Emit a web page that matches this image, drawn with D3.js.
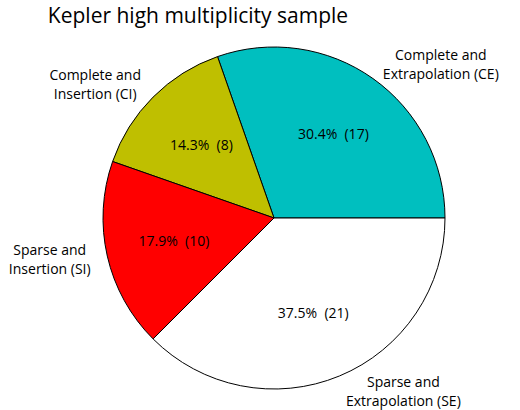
<!DOCTYPE html>
<html><head><meta charset="utf-8">
<script src="https://cdn.jsdelivr.net/npm/d3@7"></script>
<style>body{margin:0;background:#fff}text{font-family:"Open Sans","DejaVu Sans",sans-serif}</style>
</head><body><div id="chart"></div>
<script>
const labels = [["Complete and", "Extrapolation (CE)"], ["Complete and", "Insertion (CI)"], ["Sparse and", "Insertion (SI)"], ["Sparse and", "Extrapolation (SE)"]]
const counts = [17, 8, 10, 21]
const colors = ["#00bfbf", "#bfbf00", "#ff0000", "#ffffff"]

const width = 520, height = 410
const cx = 274, cy = 218, r = 171
const total = d3.sum(counts)

const svg = d3.select("#chart").append("svg").attr("width", width).attr("height", height)

svg.append("text").attr("x", 198).attr("y", 23).attr("text-anchor", "middle")
    .attr("font-size", 21).text("Kepler high multiplicity sample")

// counterclockwise from east, like matplotlib
const pie = d3.pie().sort(null).startAngle(Math.PI / 2).endAngle(Math.PI / 2 - 2 * Math.PI)
const arcs = pie(counts)
const arc = d3.arc().innerRadius(0).outerRadius(r)

const g = svg.append("g").attr("transform", `translate(${cx},${cy})`)

g.selectAll("path").data(arcs).join("path")
    .attr("d", arc)
    .attr("fill", (d, i) => colors[i])
    .attr("stroke", "black").attr("stroke-width", 1)

const pos = (d, k) => {
    const a = (d.startAngle + d.endAngle) / 2
    return [Math.sin(a) * r * k, -Math.cos(a) * r * k]
}

g.selectAll("text.pct").data(arcs).join("text").attr("class", "pct")
    .attr("x", d => pos(d, 0.6)[0]).attr("y", d => pos(d, 0.6)[1])
    .attr("dy", "0.35em").attr("text-anchor", "middle").attr("font-size", 14)
    .attr("xml:space", "preserve")
    .text(d => `${(d.value / total * 100).toFixed(1)}%  (${d.value})`)

arcs.forEach((d, i) => {
    const [x, y] = pos(d, 1.1)
    const t = g.append("text").attr("font-size", 14).attr("text-anchor", "middle")
    labels[i].forEach((s, j) => t.append("tspan").attr("x", 0).attr("y", (j - (labels[i].length - 1) / 2) * 19).attr("dy", "0.35em").text(s))
    const w = t.node().getBBox().width
    t.attr("transform", `translate(${x >= 0 ? x + w / 2 : x - w / 2},${y})`)
})
</script></body></html>
